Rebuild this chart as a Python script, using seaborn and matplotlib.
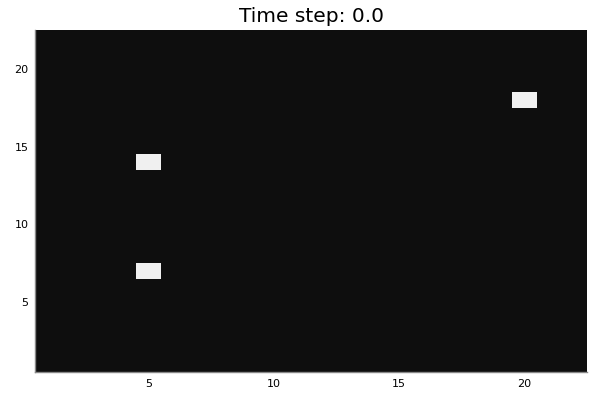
import numpy as np
import seaborn as sns
import matplotlib.pyplot as plt
from matplotlib.colors import ListedColormap

# grid size and live cells (1-based, as on the axes)
n_cells = 22
live_x = [5, 5, 20]
live_y = [7, 14, 18]
tick_values = [5, 10, 15, 20]
title = "Time step: 0.0"

grid = np.zeros((n_cells, n_cells))
for x, y in zip(live_x, live_y):
    grid[y - 1, x - 1] = 1

sns.set_style("white")
fig = plt.figure(figsize=(6, 4), dpi=100)
ax = fig.add_axes([0.059, 0.07, 0.92, 0.855])

cmap = ListedColormap(["#0e0e0e", "#f0f0f0"])
sns.heatmap(grid, ax=ax, cmap=cmap, cbar=False, vmin=0, vmax=1,
            xticklabels=False, yticklabels=False)
ax.invert_yaxis()

# heatmap cell k spans [k-1, k], so value v sits at v-0.5
ax.set_xticks([v - 0.5 for v in tick_values])
ax.set_xticklabels([str(v) for v in tick_values], fontsize=8, color="black")
ax.set_yticks([v - 0.5 for v in tick_values])
ax.set_yticklabels([str(v) for v in tick_values], fontsize=8, rotation=0, color="black")
ax.tick_params(length=0, pad=5)

for side in ["left", "bottom"]:
    ax.spines[side].set_visible(True)
    ax.spines[side].set_color("#888888")
    ax.spines[side].set_linewidth(1)
for side in ["top", "right"]:
    ax.spines[side].set_visible(False)

ax.set_title(title, fontsize=14.5, pad=6, color="black")
fig.savefig("out.png", dpi=100)
